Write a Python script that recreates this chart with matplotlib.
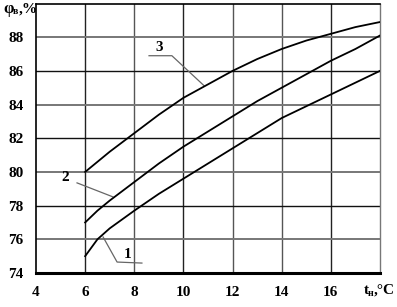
import matplotlib
matplotlib.use("Agg")
import matplotlib.pyplot as plt

# temperature, deg C
t = [6, 6.5, 7, 8, 9, 10, 11, 12, 13, 14, 15, 16, 17, 18]

# relative humidity curves, %
curve1 = [75.0, 76.0, 76.65, 77.7, 78.7, 79.6, 80.5, 81.4, 82.3, 83.2, 83.9, 84.6, 85.3, 86.0]
curve2 = [77.0, 77.7, 78.3, 79.4, 80.5, 81.5, 82.4, 83.3, 84.2, 85.0, 85.8, 86.6, 87.3, 88.1]
curve3 = [80.0, 80.6, 81.2, 82.3, 83.4, 84.4, 85.2, 86.0, 86.7, 87.3, 87.8, 88.2, 88.6, 88.9]

x_ticks = [4, 6, 8, 10, 12, 14, 16, 18]
x_labels = ["4", "6", "8", "10", "12", "14", "16", ""]
y_ticks = [74, 76, 78, 80, 82, 84, 86, 88]

plt.rcParams["font.family"] = ["Liberation Serif", "DejaVu Serif"]
plt.rcParams["font.weight"] = "bold"

fig = plt.figure(figsize=(3.97, 3.07), dpi=100)
ax = fig.add_axes([36 / 397, 34 / 307, 344 / 397, 269.5 / 307])

# grid lines, alternating shades like the scan
for xv in range(6, 18, 2):
    ax.axvline(xv, color="#222222" if xv in (6, 10, 16) else "#555555", lw=1.0, zorder=1)
for yv in range(76, 90, 2):
    ax.axhline(yv, color="#777777" if yv in (76, 80, 84, 88) else "#111111",
               lw=1.4 if yv in (76, 80, 84, 88) else 1.0, zorder=1)

for ys in (curve1, curve2, curve3):
    ax.plot(t, ys, color="black", lw=1.3, zorder=3)

ax.set_xlim(4, 18)
ax.set_ylim(74, 90)
ax.set_xticks(x_ticks)
ax.set_xticklabels(x_labels)
ax.set_yticks(y_ticks)
ax.tick_params(length=0, labelsize=11, pad=9)
for lab in ax.get_xticklabels() + ax.get_yticklabels():
    lab.set_fontweight("bold")

ax.spines["bottom"].set_linewidth(2.2)
ax.spines["left"].set_linewidth(1.2)
ax.spines["top"].set_linewidth(1.2)
ax.spines["right"].set_linewidth(1.0)
ax.spines["right"].set_color("#777777")

# curve labels with leader lines
lk = dict(color="#666666", lw=0.9, zorder=2)
ax.plot([8.6, 9.53, 10.84], [86.9, 86.9, 85.12], **lk)
ax.text(9.0, 87.4, "3", ha="center", va="center", fontsize=11, fontweight="bold")
ax.plot([5.67, 7.13], [79.35, 78.52], **lk)
ax.text(5.18, 79.65, "2", ha="center", va="center", fontsize=11, fontweight="bold")
ax.plot([6.73, 7.30, 8.31], [76.14, 74.65, 74.59], **lk)
ax.text(7.74, 75.1, "1", ha="center", va="center", fontsize=11, fontweight="bold")

# axis titles
fig.text(3 / 397, 1 - 9 / 307, "φ", ha="left", va="center", fontsize=12, fontweight="bold")
fig.text(13 / 397, 1 - 12 / 307, "в", ha="left", va="center", fontsize=7, fontweight="bold")
fig.text(19 / 397, 1 - 9 / 307, ",%", ha="left", va="center", fontsize=11, fontweight="bold")

fig.text(364 / 397, 1 - 290 / 307, "t", ha="left", va="center", fontsize=11, fontweight="bold")
fig.text(368 / 397, 1 - 293 / 307, "н", ha="left", va="center", fontsize=7, fontweight="bold")
fig.text(374 / 397, 1 - 290 / 307, ",°C", ha="left", va="center", fontsize=11, fontweight="bold")

fig.savefig("out.png", dpi=100)
